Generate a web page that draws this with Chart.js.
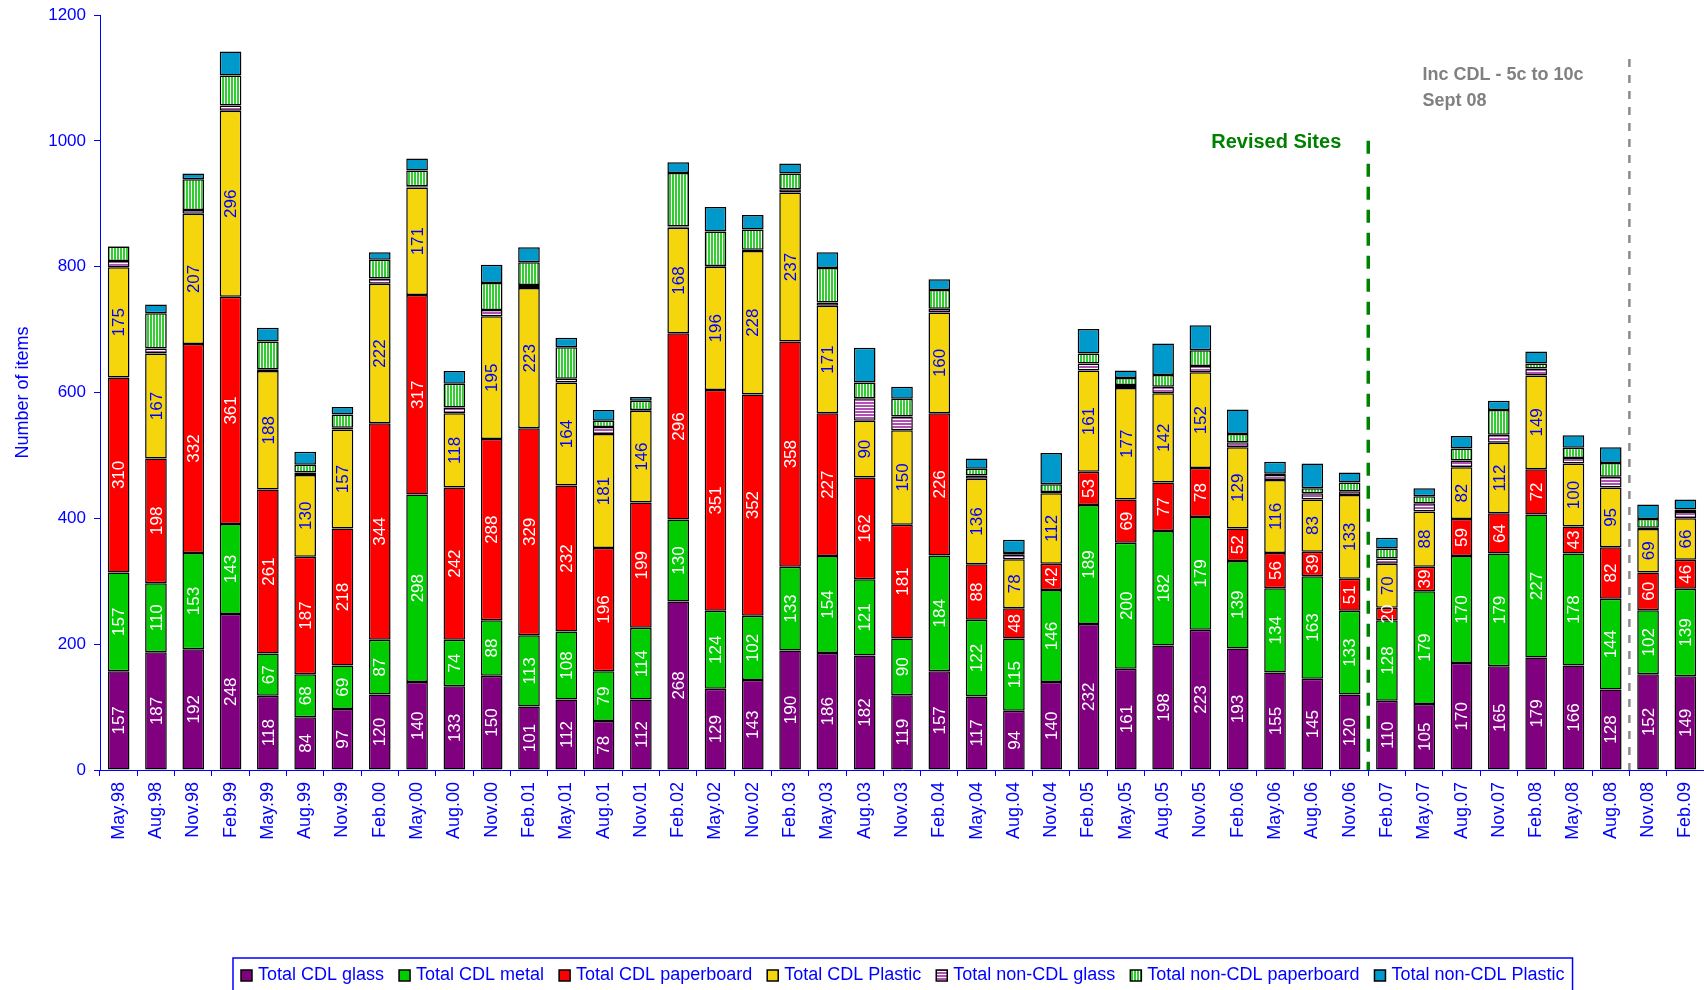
<!DOCTYPE html>
<html>
<head>
<meta charset="utf-8">
<title>CDL and non-CDL items</title>
<script src="https://cdn.jsdelivr.net/npm/chart.js@4.4.1/dist/chart.umd.min.js"></script>
<style>
  html, body { margin: 0; padding: 0; background: #fff; }
  canvas { display: block; }
</style>
</head>
<body>
<canvas id="chart" width="1704" height="990"></canvas>
<script>
// Survey dates
const categories = ['May.98', 'Aug.98', 'Nov.98', 'Feb.99', 'May.99', 'Aug.99', 'Nov.99', 'Feb.00', 'May.00', 'Aug.00',
    'Nov.00', 'Feb.01', 'May.01', 'Aug.01', 'Nov.01', 'Feb.02', 'May.02', 'Nov.02', 'Feb.03', 'May.03',
    'Aug.03', 'Nov.03', 'Feb.04', 'May.04', 'Aug.04', 'Nov.04', 'Feb.05', 'May.05', 'Aug.05', 'Nov.05',
    'Feb.06', 'May.06', 'Aug.06', 'Nov.06', 'Feb.07', 'May.07', 'Aug.07', 'Nov.07', 'Feb.08', 'May.08',
    'Aug.08', 'Nov.08', 'Feb.09'];

// Series values (number of items)
const cdlGlass = [157, 187, 192, 248, 118, 84, 97, 120, 140, 133, 150, 101, 112, 78, 112, 268, 129, 143, 190, 186,
    182, 119, 157, 117, 94, 140, 232, 161, 198, 223, 193, 155, 145, 120, 110, 105, 170, 165, 179, 166, 128, 152, 149];
const cdlMetal = [157, 110, 153, 143, 67, 68, 69, 87, 298, 74, 88, 113, 108, 79, 114, 130, 124, 102, 133, 154,
    121, 90, 184, 122, 115, 146, 189, 200, 182, 179, 139, 134, 163, 133, 128, 179, 170, 179, 227, 178, 144, 102, 139];
const cdlPaperboard = [310, 198, 332, 361, 261, 187, 218, 344, 317, 242, 288, 329, 232, 196, 199, 296, 351, 352, 358, 227,
    162, 181, 226, 88, 48, 42, 53, 69, 77, 78, 52, 56, 39, 51, 20, 39, 59, 64, 72, 43, 82, 60, 46];
const cdlPlastic = [175, 167, 207, 296, 188, 130, 157, 222, 171, 118, 195, 223, 164, 181, 146, 168, 196, 228, 237, 171,
    90, 150, 160, 136, 78, 112, 161, 177, 142, 152, 129, 116, 83, 133, 70, 88, 82, 112, 149, 100, 95, 69, 66];
const nonCdlGlass = [10, 8, 6, 8, 3, 4, 3, 8, 2, 9, 10, 5, 6, 11, 1, 2, 1, 2, 5, 5,
    36, 22, 6, 5, 7, 2, 11, 5, 10, 10, 8, 8, 10, 6, 8, 13, 11, 13, 11, 9, 17, 2, 10];
const nonCdlPaperboard = [23, 56, 49, 48, 44, 12, 21, 30, 25, 38, 43, 36, 50, 10, 15, 85, 55, 32, 25, 55,
    25, 28, 30, 11, 3, 12, 16, 11, 19, 25, 13, 2, 8, 14, 16, 11, 19, 39, 8, 16, 22, 14, 4];
const nonCdlPlastic = [1, 14, 9, 38, 22, 21, 12, 12, 19, 20, 29, 24, 15, 17, 6, 17, 39, 23, 16, 25,
    55, 19, 17, 16, 21, 50, 39, 12, 50, 40, 39, 19, 39, 16, 17, 13, 20, 15, 19, 20, 25, 23, 16];

const seriesNames = ['Total CDL glass', 'Total CDL metal', 'Total CDL paperboard', 'Total CDL Plastic',
    'Total non-CDL glass', 'Total non-CDL paperboard', 'Total non-CDL Plastic'];

const BLUE = '#0000ff';
const FONT = 'Arial, "Liberation Sans", sans-serif';

// striped fills for the non-CDL glass and paperboard series
function stripes(w, h, paint) {
    const c = document.createElement('canvas');
    c.width = w;
    c.height = h;
    const g = c.getContext('2d');
    g.fillStyle = '#ffffff';
    g.fillRect(0, 0, w, h);
    paint(g);
    return g.createPattern(c, 'repeat');
}
const glassStripes = stripes(3, 3, g => { g.fillStyle = '#b050b0'; g.fillRect(0, 0, 3, 2); });
const paperStripes = stripes(3, 3, g => { g.fillStyle = '#33cc33'; g.fillRect(0, 0, 2, 3); });

const fills = ['#800080', '#00cc00', '#ff0000', '#f5d60c', glassStripes, paperStripes, '#0099cc'];
const valueColors = ['#ffffff', '#ffffff', '#ffffff', BLUE];
const seriesData = [cdlGlass, cdlMetal, cdlPaperboard, cdlPlastic, nonCdlGlass, nonCdlPaperboard, nonCdlPlastic];

// numbers written inside the CDL segments
const segmentLabels = {
    id: 'segmentLabels',
    afterDatasetsDraw(chart) {
        const ctx = chart.ctx;
        ctx.save();
        ctx.font = '17px ' + FONT;
        ctx.textAlign = 'center';
        ctx.textBaseline = 'middle';
        chart.data.datasets.forEach((ds, i) => {
            if (i > 3) return;
            chart.getDatasetMeta(i).data.forEach((bar, j) => {
                const cy = (bar.y + bar.base) / 2;
                ctx.save();
                ctx.translate(bar.x + 1, cy);
                ctx.rotate(-Math.PI / 2);
                ctx.fillStyle = valueColors[i];
                ctx.fillText(ds.data[j], 0, 0);
                ctx.restore();
            });
        });
        ctx.restore();
    }
};

// dashed markers for the site revision and the deposit change
const markers = {
    id: 'markers',
    afterDatasetsDraw(chart) {
        const { ctx, scales: { x, y } } = chart;
        const between = (a, b) => (x.getPixelForValue(a) + x.getPixelForValue(b)) / 2;
        ctx.save();

        const gx = between(33, 34);
        ctx.strokeStyle = '#008000';
        ctx.lineWidth = 3.5;
        ctx.setLineDash([13, 10]);
        ctx.beginPath();
        ctx.moveTo(gx, y.getPixelForValue(1000));
        ctx.lineTo(gx, y.getPixelForValue(0));
        ctx.stroke();

        const hx = between(40, 41);
        ctx.strokeStyle = '#8c8c8c';
        ctx.lineWidth = 2.5;
        ctx.setLineDash([8, 8]);
        ctx.beginPath();
        ctx.moveTo(hx, y.getPixelForValue(1130));
        ctx.lineTo(hx, y.getPixelForValue(0));
        ctx.stroke();

        ctx.textBaseline = 'middle';
        ctx.font = 'bold 20px ' + FONT;
        ctx.fillStyle = '#008000';
        ctx.textAlign = 'right';
        ctx.fillText('Revised Sites', gx - 27, y.getPixelForValue(997));

        ctx.font = 'bold 18px ' + FONT;
        ctx.fillStyle = '#808080';
        ctx.textAlign = 'left';
        ctx.fillText('Inc CDL - 5c to 10c', hx - 207, y.getPixelForValue(1105));
        ctx.fillText('Sept 08', hx - 207, y.getPixelForValue(1064));
        ctx.restore();
    }
};

// legend in a blue frame under the axis labels
const boxLegend = {
    id: 'boxLegend',
    afterDraw(chart) {
        const ctx = chart.ctx;
        const yMid = 975;
        let xPos = 241;
        ctx.save();
        ctx.font = '18px ' + FONT;
        ctx.textBaseline = 'middle';
        ctx.textAlign = 'left';
        chart.data.datasets.forEach(ds => {
            ctx.fillStyle = ds.backgroundColor;
            ctx.fillRect(xPos, yMid - 5, 11, 11);
            ctx.strokeStyle = '#000';
            ctx.lineWidth = 1.5;
            ctx.strokeRect(xPos, yMid - 5, 11, 11);
            xPos += 17;
            ctx.fillStyle = BLUE;
            ctx.fillText(ds.label, xPos, yMid);
            xPos += ctx.measureText(ds.label).width + 15;
        });
        ctx.strokeStyle = BLUE;
        ctx.lineWidth = 1.5;
        ctx.strokeRect(233, 958, xPos - 7 - 233, 50);
        ctx.restore();
    }
};

const ctx = document.getElementById('chart').getContext('2d');
const chart = new Chart(ctx, {
    type: 'bar',
    data: {
        labels: categories,
        datasets: seriesNames.map((name, i) => ({
            label: name,
            data: seriesData[i],
            backgroundColor: fills[i],
            borderColor: '#000000',
            borderWidth: 1.5,
            borderSkipped: false,
            barPercentage: 0.58,
            categoryPercentage: 1
        }))
    },
    options: {
        responsive: false,
        animation: false,
        layout: { padding: { top: 15, left: 0, right: -10, bottom: 0 } },
        plugins: {
            legend: { display: false },
            tooltip: { enabled: false }
        },
        scales: {
            x: {
                stacked: true,
                border: { color: BLUE, width: 1 },
                grid: { drawOnChartArea: false, tickLength: 6, color: BLUE },
                ticks: {
                    autoSkip: false,
                    minRotation: 90,
                    maxRotation: 90,
                    padding: 6,
                    color: BLUE,
                    font: { family: FONT, size: 18 }
                },
                afterFit: scale => {
                    scale.height = 220;
                    scale.paddingLeft = 0;
                    scale.paddingRight = 0;
                }
            },
            y: {
                stacked: true,
                min: 0,
                max: 1200,
                border: { color: BLUE, width: 1 },
                grid: { drawOnChartArea: false, tickLength: 6, color: BLUE },
                ticks: {
                    stepSize: 200,
                    padding: 8,
                    color: BLUE,
                    font: { family: FONT, size: 17 },
                    callback: v => String(v)
                },
                title: {
                    display: true,
                    text: 'Number of items',
                    color: BLUE,
                    padding: { top: 12, bottom: 0 },
                    font: { family: FONT, size: 18 }
                },
                afterFit: scale => {
                    scale.width = 100;
                    scale.paddingTop = 0;
                    scale.paddingBottom = 0;
                }
            }
        }
    },
    plugins: [segmentLabels, markers, boxLegend]
});
</script>
</body>
</html>
